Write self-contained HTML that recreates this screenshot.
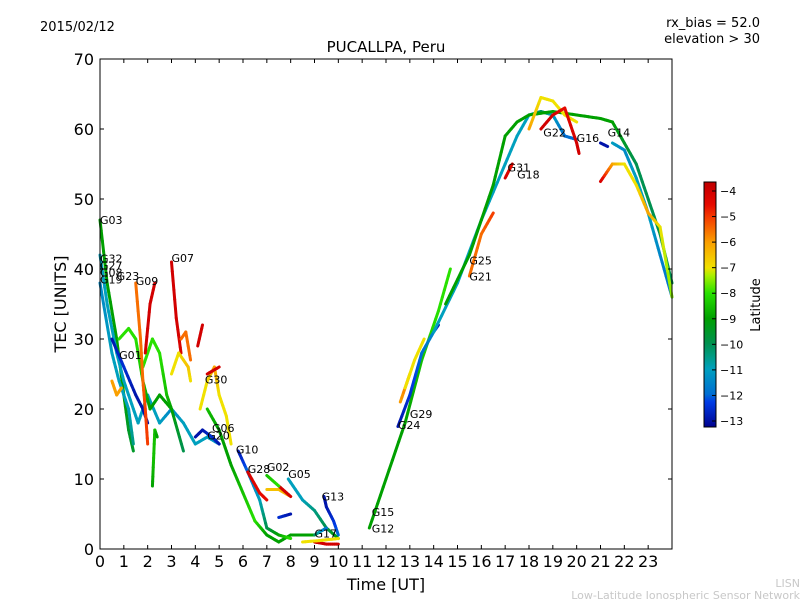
<!DOCTYPE html>
<html><head><meta charset="utf-8"><style>
body{margin:0;background:#fff;}
svg text{font-family:"DejaVu Sans","Liberation Sans",sans-serif;}
</style></head><body>
<svg id="chart" width="800" height="600" xmlns="http://www.w3.org/2000/svg">
<rect width="800" height="600" fill="#fff"/>
<defs>
<linearGradient id="jet" x1="0" y1="1" x2="0" y2="0"></linearGradient>
</defs>
<text x="40" y="31" font-size="13">2015/02/12</text>
<text x="760" y="27" font-size="13" text-anchor="end">rx_bias = 52.0</text>
<text x="760" y="43" font-size="13" text-anchor="end">elevation &gt; 30</text>
<text x="386" y="52" font-size="15" text-anchor="middle">PUCALLPA, Peru</text>
<text x="386" y="590" font-size="16" text-anchor="middle">Time [UT]</text>
<text transform="translate(66,304) rotate(-90)" font-size="16" text-anchor="middle">TEC [UNITS]</text>
<text transform="translate(760,305) rotate(-90)" font-size="13" text-anchor="middle">Latitude</text>
<text x="800" y="587" font-size="11" fill="#c8c8c8" text-anchor="end">LISN</text>
<text x="800" y="599" font-size="11" fill="#c8c8c8" text-anchor="end">Low-Latitude Ionospheric Sensor Network</text>
<g id="tracks"></g>
<g id="labels"></g>
<rect x="100" y="59" width="572" height="490" fill="none" stroke="#000" stroke-width="1"/>
<g id="axes"></g>
<rect x="704" y="182" width="12" height="245" fill="url(#jet)" stroke="#000" stroke-width="1"/>
<g id="cbticks"></g>
</svg>
<script>
const xTicks=[0,1,2,3,4,5,6,7,8,9,10,11,12,13,14,15,16,17,18,19,20,21,22,23];
const yTicks=[0,10,20,30,40,50,60,70];
const cbTicks=[-4,-5,-6,-7,-8,-9,-10,-11,-12,-13];
const satNames=["G03","G32","G27","G08","G23","G19","G09","G07","G01","G30","G06","G20","G10","G28","G02","G05","G13","G17","G15","G12","G24","G29","G25","G21","G31","G18","G22","G16","G14"];
const satTimes=[0,0,0,0,0.7,0,1.5,3.0,0.8,4.4,4.7,4.5,5.7,6.2,7.0,7.9,9.3,9.0,11.4,11.4,12.5,13.0,15.5,15.5,17.1,17.5,18.6,20.0,21.3];
const satTec=[47,41.5,40.5,39.5,39,38.5,38.3,41.6,27.7,24.2,17.3,16.2,14.2,11.4,11.7,10.7,7.5,2.2,5.3,2.9,17.7,19.3,41.2,38.9,54.5,53.5,59.5,58.7,59.5];
const tracks=[
{lat:[-9,-9,-9,-9,-9.5,-9.5],t:[0,0.3,0.7,1,1.2,1.4],v:[47,38,30,22,17,14]},
{lat:[-11,-11,-11,-11,-11,-11,-11,-11,-11.5,-11,-11,-11,-11.5],t:[0,0.3,0.7,1,1.4,1.6,2,2.5,3,3.5,4,4.5,5],v:[42,35,28,24,20,18,22,18,20,18,15,16,15]},
{lat:[-11.5,-11,-11,-11,-10.5],t:[0,0.5,0.8,1.2,1.4],v:[38,28,24,20,15]},
{lat:[-13,-12.5,-13,-13,-13],t:[0.5,1,1.5,1.8,2],v:[30,26,22,20,18]},
{lat:[-8,-8,-8,-8.5,-9,-9,-9,-10],t:[0.8,1.2,1.5,1.8,2.1,2.5,3,3.5],v:[30,31.5,30,24,20,22,20,14]},
{lat:[-8,-8,-8,-8.5,-9],t:[1.8,2.2,2.5,2.8,3],v:[26,30,28,22,20]},
{lat:[-5.5,-5.5,-5.5,-5,-5],t:[1.5,1.7,1.8,1.9,2],v:[38,30,24,20,15]},
{lat:[-6,-6,-6],t:[0.5,0.7,0.9],v:[24,22,23]},
{lat:[-4,-4,-4],t:[1.9,2.1,2.3],v:[28,35,38]},
{lat:[-9,-8.5,-8.5,-9],t:[2.2,2.25,2.3,2.4],v:[9,13,17,16]},
{lat:[-4,-4,-4.2],t:[3,3.2,3.4],v:[41,33,28]},
{lat:[-5.5,-5.5,-5.5],t:[3.4,3.6,3.8],v:[30,31,27]},
{lat:[-7,-7,-6.5,-7],t:[3,3.3,3.7,3.8],v:[25,28,26,24]},
{lat:[-4,-4],t:[4.1,4.3],v:[29,32]},
{lat:[-7,-7,-6,-7,-7,-7],t:[4.2,4.5,4.8,5,5.3,5.5],v:[20,24,26,22,19,15]},
{lat:[-4,-4],t:[4.5,5],v:[25,26]},
{lat:[-13,-13,-12.5,-13],t:[4,4.3,4.7,5],v:[16,17,16,15]},
{lat:[-8.5,-9,-9,-9],t:[4.5,5,5.3,5.5],v:[20,17,14,12]},
{lat:[-9,-8.5,-8,-9,-9,-9,-9,-9],t:[5.5,6,6.5,7,7.5,8,8.5,9],v:[12,8,4,2,1,2,2,2]},
{lat:[-13,-12,-11,-10,-9,-8],t:[5.8,6.2,6.7,7,7.5,8],v:[14,11,7,3,2,1.5]},
{lat:[-4,-4.5,-4.5],t:[6.2,6.7,7],v:[11,8,7]},
{lat:[-6.5,-6.5,-6],t:[7,7.5,8],v:[8.5,8.5,7.5]},
{lat:[-4,-4],t:[7.5,8],v:[9,7.5]},
{lat:[-8.5,-8],t:[7,7.5],v:[10.5,9]},
{lat:[-11,-11,-10.5,-10,-9],t:[7.9,8.5,9,9.5,10],v:[10,7,5.5,3,1.5]},
{lat:[-13,-13,-12.5,-12],t:[9.4,9.5,9.8,10],v:[7.5,6,4,2]},
{lat:[-10,-12],t:[9,9.5],v:[2,3]},
{lat:[-4,-4,-4],t:[9,9.5,10],v:[1,0.7,0.7]},
{lat:[-7,-7,-7],t:[8.5,9.2,10],v:[1,1.2,1.5]},
{lat:[-12.5,-13],t:[7.5,8],v:[4.5,5]},
{lat:[-9,-9,-9,-8.5,-8,-8],t:[11.3,12,12.8,13.5,14.2,14.7],v:[3,10,18,27,34,40]},
{lat:[-13,-12.5,-12,-11.5,-13],t:[12.5,13,13.5,14,14.2],v:[17.5,22,28,31,32]},
{lat:[-6,-5.5],t:[12.6,13],v:[21,25]},
{lat:[-7,-7,-7],t:[12.8,13.2,13.6],v:[23,27,30]},
{lat:[-11,-11,-11,-11,-11,-11,-10,-11,-12,-12],t:[14,15,16,17,17.5,18,18.5,19,19.5,20],v:[31,38,47,55,59,62,62.5,62,59,58.5]},
{lat:[-9,-9,-9,-9,-9,-9,-9,-9,-9,-9,-9.5,-10,-10,-10,-10],t:[14.5,15.5,16.5,17,17.5,18,19,20,21,21.5,22,22.5,23,23.5,24],v:[35,42,52,59,61,62,62.5,62,61.5,61,58,55,50,45,38]},
{lat:[-5.5,-5.5,-5],t:[15.5,16,16.5],v:[39,45,48]},
{lat:[-4,-4.5],t:[17,17.3],v:[53,55]},
{lat:[-6,-7,-7,-7,-7],t:[18,18.5,19,19.5,20],v:[60,64.5,64,62,61]},
{lat:[-4,-4,-4.5,-4,-4],t:[18.5,19,19.5,20,20.1],v:[60,62,63,58,56.5]},
{lat:[-13,-13],t:[21,21.3],v:[58,57.5]},
{lat:[-11,-11.5,-11,-11,-11.5,-12],t:[21.5,22,22.5,23,23.5,24],v:[58,57,53,48,42,36]},
{lat:[-4,-6,-7,-7,-6,-7,-7.5],t:[21,21.5,22,22.5,23,23.5,24],v:[52.5,55,55,52,48,46,36]}
];
const cmapL=[-13.3,-13,-12.3,-12,-11,-10.5,-10,-9,-8,-7.3,-7,-6,-5,-4.5,-4,-3.6];
const cmapC=[[0,0,140],[0,20,170],[0,60,230],[0,110,210],[0,160,190],[0,155,130],[0,145,80],[0,160,0],[40,225,0],[170,240,0],[240,225,0],[250,160,0],[245,60,0],[230,10,0],[210,0,0],[190,0,0]];
const X=t=>100+t*572/24, Y=v=>549-v*7, CB=l=>191+(-4-l)*(230/9);
function jet(l){l=Math.max(-13.3,Math.min(-3.6,l));
 for(let i=0;i<cmapL.length-1;i++){if(l<=cmapL[i+1]){const f=(l-cmapL[i])/(cmapL[i+1]-cmapL[i]);
  const c=cmapC[i].map((a,k)=>Math.round(a+(cmapC[i+1][k]-a)*f));return `rgb(${c[0]},${c[1]},${c[2]})`;}}
 return 'rgb(190,0,0)';}
const NS="http://www.w3.org/2000/svg";
const grad=document.getElementById('jet');
cmapL.forEach((l,i)=>{const s=document.createElementNS(NS,'stop');
 s.setAttribute('offset',(l+13.3)/9.7);s.setAttribute('stop-color',`rgb(${cmapC[i].join(',')})`);grad.appendChild(s);});
const tg=document.getElementById('tracks');
tracks.forEach((tr,k)=>{for(let i=0;i<tr.t.length-1;i++){
 const n=6;for(let j=0;j<n;j++){const a=j/n,b=(j+1)/n;
 const ln=document.createElementNS(NS,'line');
 
 
 const ta=tr.t[i]+(tr.t[i+1]-tr.t[i])*a,tb=tr.t[i]+(tr.t[i+1]-tr.t[i])*b;
 const va=tr.v[i]+(tr.v[i+1]-tr.v[i])*a,vb=tr.v[i]+(tr.v[i+1]-tr.v[i])*b;
 const la=tr.lat[i]+(tr.lat[i+1]-tr.lat[i])*(a+b)/2;
 ln.setAttribute('x1',X(ta));ln.setAttribute('y1',Y(va));ln.setAttribute('x2',X(tb));ln.setAttribute('y2',Y(vb));
 ln.setAttribute('stroke',jet(la));ln.setAttribute('stroke-width','3');ln.setAttribute('stroke-linecap','round');
 tg.appendChild(ln);}}});
const lg=document.getElementById('labels');
satNames.forEach((s,i)=>{const t=document.createElementNS(NS,'text');
 
 
 t.setAttribute('x',X(satTimes[i]));t.setAttribute('y',Y(satTec[i])+4);t.setAttribute('font-size','11');t.textContent=s;lg.appendChild(t);});
const ag=document.getElementById('axes');
function add(tag,attrs,txt){const e=document.createElementNS(NS,tag);for(const k in attrs)e.setAttribute(k,attrs[k]);if(txt!==undefined)e.textContent=txt;ag.appendChild(e);return e;}
xTicks.forEach(t=>{const x=X(t);
 const a=add('line',{x1:x,y1:549,x2:x,y2:545,stroke:'#000'});
 const b=add('line',{x1:x,y1:59,x2:x,y2:63,stroke:'#000'});
 const l=add('text',{x:x,y:567,'font-size':16,'text-anchor':'middle'},t);});
yTicks.forEach(v=>{const y=Y(v);
 const a=add('line',{x1:100,y1:y,x2:104,y2:y,stroke:'#000'});
 const b=add('line',{x1:672,y1:y,x2:668,y2:y,stroke:'#000'});
 const l=add('text',{x:94,y:y+6,'font-size':16,'text-anchor':'end'},v);});
const cg=document.getElementById('cbticks');
cbTicks.forEach(v=>{const y=CB(v);
 const a=document.createElementNS(NS,'line');
 a.setAttribute('x1',712);a.setAttribute('x2',716);a.setAttribute('y1',y);a.setAttribute('y2',y);a.setAttribute('stroke','#000');cg.appendChild(a);
 const t=document.createElementNS(NS,'text');
 t.setAttribute('x',720);t.setAttribute('y',y+4);t.setAttribute('font-size','11');t.textContent='\u2212'+Math.abs(v);cg.appendChild(t);});
</script>
</body></html>
